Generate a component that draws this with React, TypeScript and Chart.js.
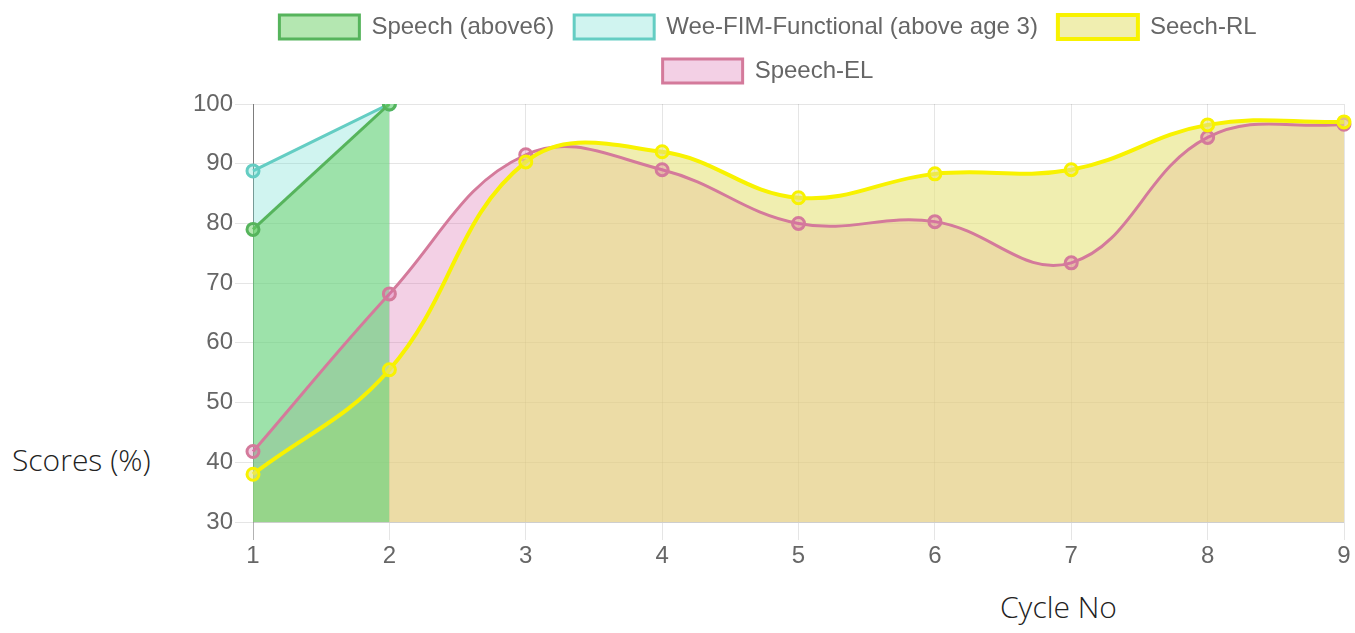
import React, { useEffect, useRef } from 'react';
import { Chart, registerables } from 'chart.js';

Chart.register(...registerables);

// ---- data ----
const categories = ['1', '2', '3', '4', '5', '6', '7', '8', '9'];
const seriesNames = ['Speech (above6)', 'Wee-FIM-Functional (above age 3)', 'Seech-RL', 'Speech-EL'];
const speechAbove6 = [79, 100, null, null, null, null, null, null, null];
const weeFimFunctional = [88.8, 100, null, null, null, null, null, null, null];
const seechRL = [38, 55.5, 90.3, 92, 84.3, 88.3, 89, 96.5, 97];
const speechEL = [41.8, 68.2, 91.5, 89, 80, 80.3, 73.4, 94.4, 96.6];
const yMin = 30;
const yMax = 100;
const yStep = 10;
const yAxisTitle = 'Scores (%)';
const xAxisTitle = 'Cycle No';

const FONT = "'Liberation Sans', Arial, Helvetica, sans-serif";
const LEGEND_EXTRA = 11;

const legendSpacer = {
  id: 'legendSpacer',
  beforeLayout(chart: any) {
    const lg = chart.legend;
    if (lg && !lg.__patched) {
      const orig = lg.fit;
      lg.fit = function () {
        orig.call(this);
        this.height += LEGEND_EXTRA;
      };
      lg.__patched = true;
    }
  },
};

export default function App() {
  const ref = useRef<HTMLCanvasElement | null>(null);

  useEffect(() => {
    if (!ref.current) return;
    const mk = (label: string, data: (number | null)[], line: string, fill: string, bw: number) => ({
      label,
      data,
      borderColor: line,
      backgroundColor: fill,
      borderWidth: bw,
      fill: 'origin',
      tension: 0.4,
      pointRadius: 6,
      pointBorderWidth: 3,
      pointBorderColor: line,
      pointBackgroundColor: fill,
      spanGaps: false,
    });
    const chart = new Chart(ref.current, {
      type: 'line',
      data: {
        labels: categories,
        datasets: [
          mk(seriesNames[0], speechAbove6, 'rgb(86,180,92)', 'rgba(106,208,100,0.5)', 3),
          mk(seriesNames[1], weeFimFunctional, 'rgb(100,205,195)', 'rgba(100,220,205,0.3)', 3),
          mk(seriesNames[2], seechRL, 'rgb(248,242,0)', 'rgba(230,227,123,0.6)', 4),
          mk(seriesNames[3], speechEL, 'rgb(212,122,155)', 'rgba(215,100,170,0.3)', 3),
        ] as any,
      },
      options: {
        animation: false,
        responsive: true,
        maintainAspectRatio: false,
        layout: { padding: { left: 0, right: 11, top: 0, bottom: 0 } },
        font: { family: FONT },
        plugins: {
          filler: { drawTime: 'beforeDatasetsDraw' },
          tooltip: { enabled: false },
          legend: {
            position: 'top',
            labels: {
              color: '#666',
              font: { family: FONT, size: 24 },
              boxWidth: 80,
              boxHeight: 24,
              padding: 20,
            },
          },
        },
        scales: {
          x: {
            grid: {
              color: (ctx: any) => (ctx.index === 0 ? 'rgba(0,0,0,0.3)' : 'rgba(0,0,0,0.1)'),
              tickLength: 18,
            },
            border: { color: 'rgba(0,0,0,0.1)' },
            ticks: { color: '#666', font: { family: FONT, size: 24 }, padding: 2, maxRotation: 0 },
            afterFit: (s: any) => {
              s.height = 50;
            },
          },
          y: {
            min: yMin,
            max: yMax,
            grid: { color: 'rgba(0,0,0,0.1)', tickLength: 18 },
            border: { color: 'rgba(0,0,0,0.3)' },
            ticks: { color: '#666', font: { family: FONT, size: 24 }, stepSize: yStep, padding: 2 },
            afterFit: (s: any) => {
              s.width = 61;
            },
          },
        },
      } as any,
      plugins: [legendSpacer as any],
    });
    return () => chart.destroy();
  }, []);

  const titleStyle: React.CSSProperties = {
    position: 'absolute',
    fontFamily: "'Open Sans', 'Noto Sans', sans-serif",
    fontWeight: 300,
    fontSize: 30,
    lineHeight: '30px',
    color: '#222',
    whiteSpace: 'nowrap',
  };

  return (
    <div style={{ position: 'absolute', left: 0, top: 0, width: 1355, height: 633, overflow: 'hidden', background: '#fff' }}>
      <div style={{ position: 'absolute', left: 192, top: -5, width: 1163, height: 577 }}>
        <canvas ref={ref} />
      </div>
      <div style={{ ...titleStyle, left: 12, top: 445 }}>{yAxisTitle}</div>
      <div style={{ ...titleStyle, left: 1000, top: 592 }}>{xAxisTitle}</div>
    </div>
  );
}
